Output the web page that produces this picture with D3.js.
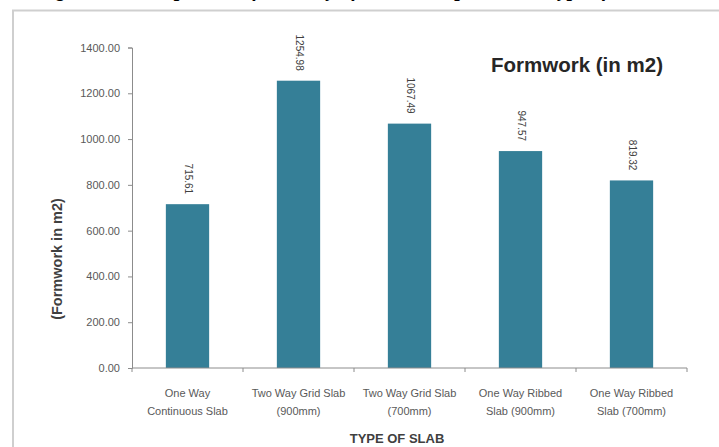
<!DOCTYPE html>
<html>
<head>
<meta charset="utf-8">
<script src="https://cdn.jsdelivr.net/npm/d3@7/dist/d3.min.js"></script>
<style>
  html, body { margin: 0; padding: 0; background: #fff; }
  svg { display: block; }
</style>
</head>
<body>
<svg id="chart" width="719" height="447"></svg>
<script>
// Slab types (two-line category labels) and formwork quantities in m2
const categories = [
  ["One Way", "Continuous Slab"],
  ["Two Way Grid Slab", "(900mm)"],
  ["Two Way Grid Slab", "(700mm)"],
  ["One Way Ribbed", "Slab (900mm)"],
  ["One Way Ribbed", "Slab (700mm)"]
];
const formwork = [715.61, 1254.98, 1067.49, 947.57, 819.32];
const yTicks = [0, 200, 400, 600, 800, 1000, 1200, 1400];

const chartTitle = "Formwork (in m2)";
const yTitle = "(Formwork in m2)";
const xTitle = "TYPE OF SLAB";
const caption = "Figure 4.2: Comparison of Quantity of Formwork per various type of slab";

const svg = d3.select("#chart");
const W = 719, H = 447;
const plot = { left: 132, right: 687, top: 47.5, bottom: 368 };

const barColor = "#357f97";
const axisColor = "#8c8c8c";
const labelColor = "#595959";
const font = "'Liberation Sans', Arial, sans-serif";

// caption running above the chart frame (only its lower edge falls inside the page)
svg.append("text")
  .attr("x", 38).attr("y", -4)
  .attr("font-family", "'Liberation Serif', 'Times New Roman', serif")
  .attr("font-style", "italic").attr("font-weight", "bold")
  .attr("font-size", 20).attr("fill", "#000")
  .text(caption);

// chart frame
svg.append("path")
  .attr("d", `M13,${H + 2} V10.5 H${W + 2}`)
  .attr("fill", "none").attr("stroke", "#cfcfcf").attr("stroke-width", 2);

const x = d3.scaleBand()
  .domain(d3.range(categories.length))
  .range([plot.left, plot.right])
  .paddingInner(0.61).paddingOuter(0.305);

const y = d3.scaleLinear().domain([0, 1400]).range([plot.bottom, plot.top]);

// y axis
const yAxis = svg.append("g")
  .attr("transform", `translate(${plot.left},0)`)
  .call(d3.axisLeft(y).tickValues(yTicks).tickFormat(d3.format(".2f")).tickSize(4).tickPadding(8));
yAxis.select(".domain").attr("stroke", axisColor);
yAxis.selectAll(".tick line").attr("stroke", axisColor);
yAxis.selectAll(".tick text")
  .attr("font-family", font).attr("font-size", 11).attr("fill", labelColor);

// bars
svg.append("g").selectAll("rect")
  .data(formwork)
  .join("rect")
  .attr("x", (d, i) => x(i))
  .attr("y", d => y(d))
  .attr("width", x.bandwidth())
  .attr("height", d => y(0) - y(d))
  .attr("fill", barColor);

// value labels, rotated to read downward
svg.append("g").selectAll("text")
  .data(formwork)
  .join("text")
  .attr("transform", (d, i) => `translate(${x(i) + x.bandwidth() / 2 + 1},${y(d) - 10}) rotate(90)`)
  .attr("text-anchor", "end")
  .attr("dy", "0.35em")
  .attr("font-family", font).attr("font-size", 10).attr("fill", "#404040")
  .text(d => d3.format(".2f")(d));

// x axis line and boundary ticks
const xAxisG = svg.append("g");
xAxisG.append("line")
  .attr("x1", plot.left).attr("x2", plot.right)
  .attr("y1", y(0)).attr("y2", y(0))
  .attr("stroke", axisColor);
const step = x.step();
xAxisG.selectAll("line.tick")
  .data(d3.range(categories.length + 1))
  .join("line")
  .attr("class", "tick")
  .attr("x1", i => plot.left + i * step).attr("x2", i => plot.left + i * step)
  .attr("y1", y(0)).attr("y2", y(0) + 4)
  .attr("stroke", axisColor);

// category labels
const catG = svg.append("g").selectAll("text")
  .data(categories)
  .join("text")
  .attr("x", (d, i) => x(i) + x.bandwidth() / 2)
  .attr("y", 397)
  .attr("text-anchor", "middle")
  .attr("font-family", font).attr("font-size", 11).attr("fill", labelColor);
catG.selectAll("tspan")
  .data(d => d)
  .join("tspan")
  .attr("x", function () { return this.parentNode.getAttribute("x"); })
  .attr("dy", (d, j) => j === 0 ? 0 : 17.5)
  .text(d => d);

// chart title
svg.append("text")
  .attr("x", 577).attr("y", 72)
  .attr("text-anchor", "middle")
  .attr("font-family", font).attr("font-weight", "bold")
  .attr("font-size", 20.5).attr("fill", "#262626")
  .text(chartTitle);

// axis titles
svg.append("text")
  .attr("transform", `translate(62,259) rotate(-90)`)
  .attr("text-anchor", "middle")
  .attr("font-family", font).attr("font-weight", "bold")
  .attr("font-size", 14.5).attr("fill", "#404040")
  .text(yTitle);

svg.append("text")
  .attr("x", 397).attr("y", 443)
  .attr("text-anchor", "middle")
  .attr("font-family", font).attr("font-weight", "bold")
  .attr("font-size", 13).attr("fill", "#404040")
  .text(xTitle);
</script>
</body>
</html>
